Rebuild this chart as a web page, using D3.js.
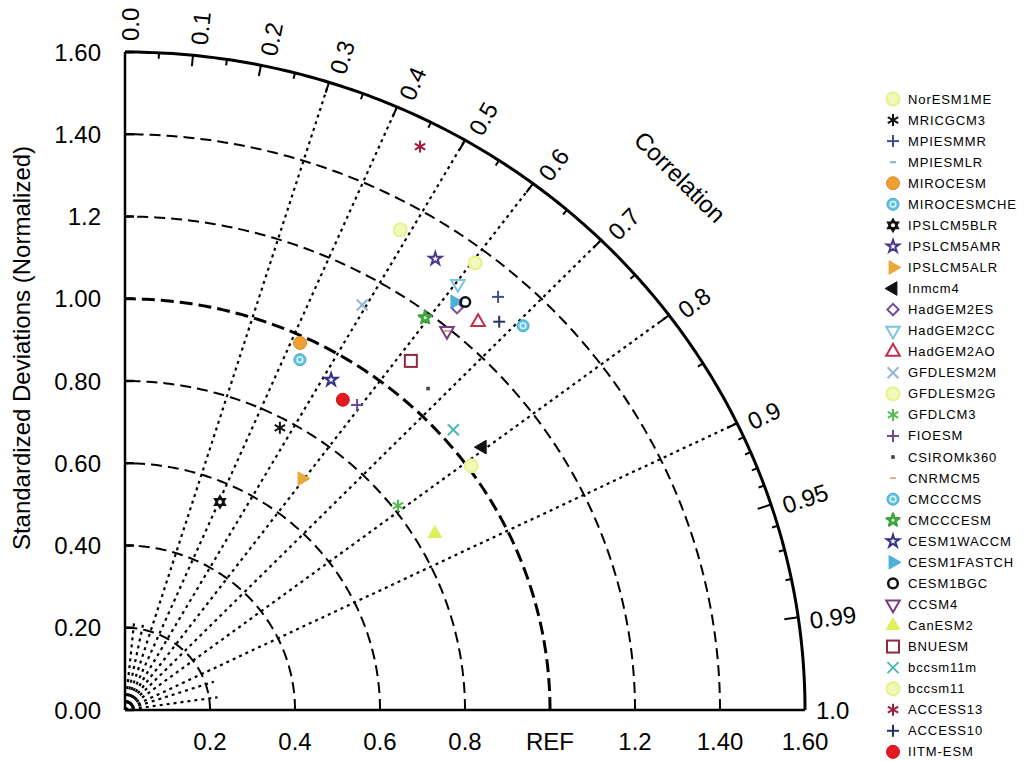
<!DOCTYPE html>
<html><head><meta charset="utf-8">
<script src="https://cdn.jsdelivr.net/npm/d3@7/dist/d3.min.js"></script>
<style>
body{margin:0;background:#fff}
text{font-family:"Liberation Sans",Arial,Helvetica,sans-serif;fill:#000}
</style>
</head><body>
<svg id="chart" width="1024" height="761"></svg>
<script>
// ---------- data ----------
const models = ["NorESM1ME","MRICGCM3","MPIESMMR","MPIESMLR","MIROCESM","MIROCESMCHE","IPSLCM5BLR","IPSLCM5AMR","IPSLCM5ALR","Inmcm4","HadGEM2ES","HadGEM2CC","HadGEM2AO","GFDLESM2M","GFDLESM2G","GFDLCM3","FIOESM","CSIROMk360","CNRMCM5","CMCCCMS","CMCCCESM","CESM1WACCM","CESM1FASTCH","CESM1BGC","CCSM4","CanESM2","BNUESM","bccsm11m","bccsm11","ACCESS13","ACCESS10","IITM-ESM"];
const stdDev = [1.364,0.777,1.334,1.271,0.983,0.946,0.553,1.318,0.700,1.056,1.252,1.299,1.257,1.132,1.008,0.812,0.921,1.058,1.193,1.323,1.187,0.938,1.260,1.275,1.193,0.846,1.083,1.030,1.335,1.536,1.291,0.912];
const correlation = [0.604,0.469,0.658,0.620,0.419,0.435,0.404,0.554,0.595,0.796,0.624,0.603,0.661,0.493,0.808,0.791,0.593,0.674,0.635,0.708,0.595,0.517,0.616,0.628,0.635,0.862,0.621,0.750,0.485,0.452,0.682,0.562];

const stdTicks = [0,0.2,0.4,0.6,0.8,1.0,1.2,1.4,1.6];
const yTickLabels = ["0.00","0.20","0.40","0.60","0.80","1.00","1.2","1.40","1.60"];
const xTicks = [0.2,0.4,0.6,0.8,1.0,1.2,1.4,1.6];
const xTickLabels = ["0.2","0.4","0.6","0.8","REF","1.2","1.40","1.60"];
const corrTicks = [0,0.1,0.2,0.3,0.4,0.5,0.6,0.7,0.8,0.9,0.95,0.99,1.0];
const corrTickLabels = ["0.0","0.1","0.2","0.3","0.4","0.5","0.6","0.7","0.8","0.9","0.95","0.99","1.0"];
const corrMinor = [0.05,0.15,0.25,0.35,0.45,0.55,0.65,0.75,0.85,0.91,0.92,0.93,0.94,0.96,0.97,0.98];
const corrLinesFull = [0.3,0.4,0.5,0.6,0.7,0.8,0.9];
const corrLinesShort = [0.1,0.2,0.95,0.99];

// ---------- styles ----------
const markerTypes = ["pale","asterisk","plus","dash","disc","ring","hexagram","star","triRight","triLeft","diamond","triDown","triUp","cross","pale","asterisk","plus","dot","dash","ring","flower","star","triRight","octagon","triDown","triUpFill","square","cross","pale","asterisk","plus","disc"];
const markerColors = ["#e6f28c","#111111","#3d4f86","#7fb2d6","#f0a030","#5cc4e6","#111111","#4a3590","#e8a83a","#111111","#7a4a9c","#7cc4e2","#c0304a","#8fb4d6","#e6f28c","#55bb55","#6a4a90","#404050","#c8b890","#5cc4e6","#3fa53f","#352f8a","#4cb0d8","#111111","#7a3a80","#e2ee5a","#8e2a40","#4eb5b5","#e6f28c","#a01e3c","#26345f","#e41a1c"];

// ---------- setup ----------
const svg = d3.select("#chart");
const x = d3.scaleLinear().domain([0,1.6]).range([125,805]);
const y = d3.scaleLinear().domain([0,1.6]).range([710,52]);
const toXY = (r,c) => [x(r*c), y(r*Math.sqrt(Math.max(0,1-c*c)))];

const arcPts = r => d3.range(0,90.01,0.5).map(a => [x(r*Math.cos(a*Math.PI/180)), y(r*Math.sin(a*Math.PI/180))]);
const line = d3.line();

const grid = svg.append("g");
// std dev arcs
stdTicks.filter(r => r>0 && r<1.6).forEach(r => {
  grid.append("path").attr("d", line(arcPts(r))).attr("fill","none")
    .attr("stroke","#000")
    .attr("stroke-width", r===1.0 ? 3 : 2)
    .attr("stroke-dasharray", r===1.0 ? "13,6" : "11,6");
});
// correlation radial lines
corrLinesFull.forEach(c => {
  const p = toXY(1.6,c);
  grid.append("line").attr("x1",x(0)).attr("y1",y(0)).attr("x2",p[0]).attr("y2",p[1])
    .attr("stroke","#000").attr("stroke-width",2.2).attr("stroke-dasharray","3,4");
});
corrLinesShort.forEach(c => {
  const p = toXY(0.22,c);
  grid.append("line").attr("x1",x(0)).attr("y1",y(0)).attr("x2",p[0]).attr("y2",p[1])
    .attr("stroke","#000").attr("stroke-width",2.2).attr("stroke-dasharray","3,4");
});

// axes
svg.append("line").attr("x1",x(0)).attr("y1",y(0)).attr("x2",x(0)).attr("y2",y(1.6)).attr("stroke","#000").attr("stroke-width",2.5);
svg.append("line").attr("x1",x(0)).attr("y1",y(0)).attr("x2",x(1.6)).attr("y2",y(0)).attr("stroke","#000").attr("stroke-width",2.5);
svg.append("path").attr("d", line(arcPts(1.6))).attr("fill","none").attr("stroke","#000").attr("stroke-width",3);

// y ticks + labels
stdTicks.forEach((t,i) => {
  svg.append("line").attr("x1",x(0)).attr("x2",x(0)+9).attr("y1",y(t)).attr("y2",y(t)).attr("stroke","#000").attr("stroke-width",2.5);
  svg.append("text").attr("x",101).attr("y",y(t)).attr("text-anchor","end").attr("dominant-baseline","central")
    .attr("font-size",24).text(yTickLabels[i]);
});
// x labels
xTicks.forEach((t,i) => {
  svg.append("text").attr("x",x(t)).attr("y",741).attr("text-anchor","middle").attr("dominant-baseline","central")
    .attr("font-size",24).text(xTickLabels[i]);
});

// correlation ticks
function corrTick(c, len){
  const a = Math.acos(c);
  const p = toXY(1.6,c);
  svg.append("line").attr("x1",p[0]).attr("y1",p[1])
    .attr("x2",p[0]-len*Math.cos(a)).attr("y2",p[1]+len*Math.sin(a))
    .attr("stroke","#000").attr("stroke-width",2);
}
corrTicks.filter(c=>c>0 && c<1).forEach(c => corrTick(c, (c===0.95||c===0.99)?14:11));
corrMinor.forEach(c => corrTick(c, 6));

// correlation labels
corrTicks.forEach((c,i) => {
  const a = Math.acos(c);
  const p = toXY(1.6,c);
  const deg = a*180/Math.PI;
  svg.append("text")
    .attr("transform",`translate(${p[0]},${p[1]}) rotate(${-deg})`)
    .attr("x",11).attr("y",c===1.0?0:5)
    .attr("dominant-baseline","central").attr("font-size",24)
    .text(corrTickLabels[i]);
});

// titles
svg.append("text").attr("transform","translate(680,177) rotate(45)").attr("text-anchor","middle")
  .attr("dominant-baseline","central").attr("font-size",24).text("Correlation");
svg.append("text").attr("transform","translate(21,348) rotate(-90)").attr("text-anchor","middle")
  .attr("dominant-baseline","central").attr("font-size",24).text("Standardized Deviations (Normalized)");

// ---------- markers ----------
function drawMarker(g, type, color){
  const s = 6;
  const tri = (rot, fill) => {
    const p = d3.symbol(d3.symbolTriangle, 80)();
    g.append("path").attr("d",p).attr("transform",`rotate(${rot})`)
      .attr("fill", fill ? color : "none").attr("stroke",color).attr("stroke-width", fill?1:2);
  };
  switch(type){
    case "pale":
      g.append("circle").attr("r",6.5).attr("fill","#f2f8b8").attr("stroke",color).attr("stroke-width",2); break;
    case "disc":
      g.append("circle").attr("r",6.5).attr("fill",color).attr("stroke",d3.color(color).darker(0.4)).attr("stroke-width",1); break;
    case "ring":
      g.append("circle").attr("r",6).attr("fill",color).attr("stroke",d3.color(color).darker(0.5)).attr("stroke-width",1);
      g.append("circle").attr("r",2.8).attr("fill","none").attr("stroke","#dff4fb").attr("stroke-width",1.5); break;
    case "asterisk":
      [0,60,120].forEach(r => g.append("line").attr("x1",-s).attr("x2",s).attr("transform",`rotate(${r+90})`)
        .attr("stroke",color).attr("stroke-width",2)); break;
    case "plus":
      g.append("line").attr("x1",-s).attr("x2",s).attr("stroke",color).attr("stroke-width",2);
      g.append("line").attr("y1",-s).attr("y2",s).attr("stroke",color).attr("stroke-width",2); break;
    case "cross":
      g.append("line").attr("x1",-5.5).attr("x2",5.5).attr("y1",-5.5).attr("y2",5.5).attr("stroke",color).attr("stroke-width",2);
      g.append("line").attr("x1",-5.5).attr("x2",5.5).attr("y1",5.5).attr("y2",-5.5).attr("stroke",color).attr("stroke-width",2); break;
    case "dash":
      g.append("line").attr("x1",-3).attr("x2",3).attr("stroke",color).attr("stroke-width",2); break;
    case "dot":
      g.append("rect").attr("x",-1.8).attr("y",-1.8).attr("width",3.6).attr("height",3.6).attr("fill",color); break;
    case "hexagram":
      g.append("path").attr("d",d3.symbol(d3.symbolTriangle,80)()).attr("fill",color);
      g.append("path").attr("d",d3.symbol(d3.symbolTriangle,80)()).attr("transform","rotate(180)").attr("fill",color);
      g.append("circle").attr("r",2).attr("fill","#fff"); break;
    case "star":
      g.append("path").attr("d",d3.symbol(d3.symbolStar,48)()).attr("fill","none").attr("stroke",color).attr("stroke-width",2); break;
    case "triRight": tri(90,true); break;
    case "triLeft": tri(-90,true); break;
    case "triDown": tri(180,false); break;
    case "triUp": tri(0,false); break;
    case "triUpFill": tri(0,true); break;
    case "diamond":
      g.append("rect").attr("x",-4).attr("y",-4).attr("width",8).attr("height",8).attr("transform","rotate(45)")
        .attr("fill","none").attr("stroke",color).attr("stroke-width",2); break;
    case "square":
      g.append("rect").attr("x",-6).attr("y",-6).attr("width",12).attr("height",12).attr("fill","none").attr("stroke",color).attr("stroke-width",2); break;
    case "octagon":
      g.append("circle").attr("r",4.8).attr("fill","none").attr("stroke",color).attr("stroke-width",2.5); break;
    case "flower":
      g.append("path").attr("d",d3.symbol(d3.symbolStar,50)()).attr("fill",color).attr("stroke",color).attr("stroke-width",2.5).attr("stroke-linejoin","round");
      g.append("circle").attr("r",1.6).attr("fill","#cfeccf"); break;
  }
}

const pts = svg.append("g");
models.forEach((m,i) => {
  const p = toXY(stdDev[i], correlation[i]);
  const g = pts.append("g").attr("transform",`translate(${p[0]},${p[1]})`);
  drawMarker(g, markerTypes[i], markerColors[i]);
});

// ---------- legend ----------
const leg = svg.append("g");
models.forEach((m,i) => {
  const ly = 99 + i*21.06;
  const g = leg.append("g").attr("transform",`translate(893,${ly})`);
  drawMarker(g, markerTypes[i], markerColors[i]);
  leg.append("text").attr("x",908).attr("y",ly).attr("dominant-baseline","central")
    .attr("font-size",13).attr("letter-spacing",0.9).text(m);
});
</script>
</body></html>
